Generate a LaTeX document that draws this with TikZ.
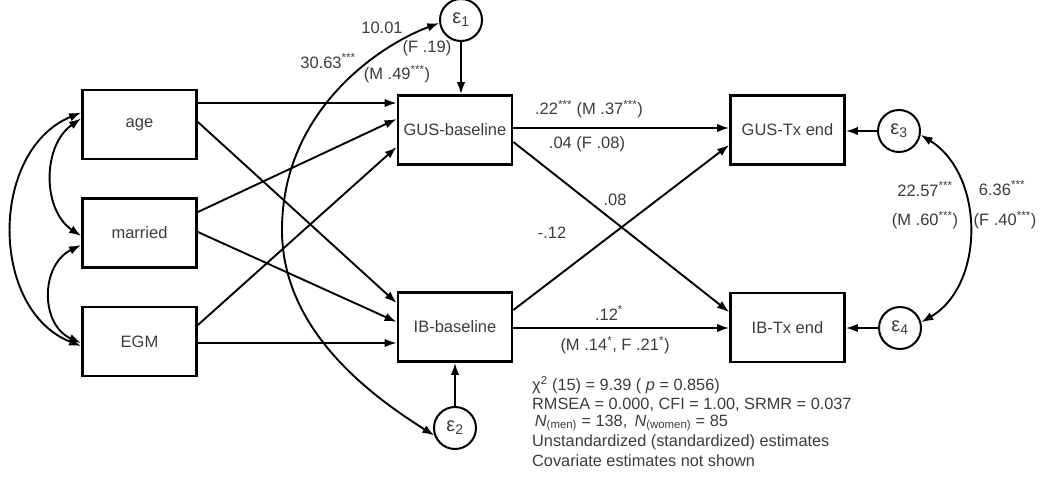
\documentclass[tikz,border=0pt]{standalone}
\usepackage{fontspec}
\setmainfont{Liberation Sans}
\usetikzlibrary{arrows.meta,calc}
\definecolor{txt}{RGB}{60,60,60}
\newcommand\thrst{\textsuperscript{***}}
\newcommand\onest{\textsuperscript{*}}
\begin{document}
\begin{tikzpicture}[x=1pt,y=-1pt,
  box/.style={draw=black, line width=2.8pt, minimum width=114pt, minimum height=69pt, inner sep=0pt, text=txt, font=\fontsize{16.5}{19}\selectfont},
  err/.style={draw=black, line width=2pt, circle, minimum size=42pt, inner sep=0pt, text=txt, font=\fontsize{20}{22}\selectfont},
  pth/.style={line width=1.9pt, -{Latex[length=12pt,width=8.5pt]}},
  cov/.style={line width=1.9pt, {Latex[length=12pt,width=8.5pt]}-{Latex[length=12pt,width=8.5pt]}},
  lab/.style={text=txt, font=\fontsize{16.5}{19}\selectfont, inner sep=0pt},
  stat/.style={text=txt, font=\fontsize{16.3}{19}\selectfont, inner sep=0pt, anchor=west}
]
\fill[white, use as bounding box] (0,0) rectangle (1040,479);

% boxes
\node[box] (age) at (139.5,124.5) {age};
\node[box] (mar) at (139.5,233) {married};
\node[box] (egm) at (139.5,341.5) {EGM};
\node[box] (gus) at (455,130) {GUS-baseline};
\node[box] (ib) at (455,327) {IB-baseline};
\node[box] (gtx) at (787.5,130) {GUS-Tx end};
\node[box] (itx) at (787.5,327.5) {IB-Tx end};

% error terms
\node[err] (e1) at (461,20) {ε\textsubscript{1}};
\node[err] (e2) at (455,428) {ε\textsubscript{2}};
\node[err] (e3) at (899,131) {ε\textsubscript{3}};
\node[err] (e4) at (900,328) {ε\textsubscript{4}};

% exogenous -> baseline
\draw[pth] ($(age.east)+(0,-21.5)$) -- ($(gus.west)+(0,-27)$);
\draw[pth] ($(age.east)+(0,-2.5)$) -- ($(ib.west)+(0,-24)$);
\draw[pth] ($(mar.east)+(0,-21)$) -- ($(gus.west)+(0,-11)$);
\draw[pth] ($(mar.east)+(0,-1)$) -- ($(ib.west)+(0,-5)$);
\draw[pth] ($(egm.east)+(0,-16.5)$) -- ($(gus.west)+(0,17)$);
\draw[pth] ($(egm.east)+(0,1.5)$) -- ($(ib.west)+(0,16)$);

% baseline -> end
\draw[pth] ($(gus.east)+(0,-2)$) -- ($(gtx.west)+(0,-2)$);
\draw[pth] ($(gus.east)+(0,12)$) -- ($(itx.west)+(0,-15.5)$);
\draw[pth] ($(ib.east)+(0,-17)$) -- ($(gtx.west)+(0,15)$);
\draw[pth] ($(ib.east)+(0,1)$) -- ($(itx.west)+(0,0.5)$);

% error arrows
\draw[pth] (e1.south) -- (e1.south |- gus.north);
\draw[pth] (e2.north) -- (e2.north |- ib.south);
\draw[pth] (e3.west) -- (e3.west -| gtx.east);
\draw[pth] (e4.west) -- (e4.west -| itx.east);

% covariances among exogenous
\coordinate (a1) at ($(age.west)+(0,-6)$);
\coordinate (a2) at ($(age.west)+(0,-12)$);
\coordinate (m1) at ($(mar.west)+(0,3)$);
\coordinate (m2) at ($(mar.west)+(0,12)$);
\coordinate (g1) at ($(egm.west)+(0,1.5)$);
\coordinate (g2) at ($(egm.west)+(0,4.5)$);
\draw[cov] (a1) .. controls ($(a1)+(-39,27)$) and ($(m1)+(-39,-26)$) .. (m1);
\draw[cov] (m2) .. controls ($(m2)+(-41,20)$) and ($(g1)+(-41,-18)$) .. (g1);
\draw[cov] (a2) .. controls ($(a2)+(-92,38)$) and ($(g2)+(-92,-36)$) .. (g2);

% covariances among errors
\coordinate (arcL) at (282,230);
\draw[cov] (e1.188) .. controls (380,45) and (282,110) .. (arcL)
  .. controls (282,330) and (370,395) .. (e2.200);
\draw[cov] (e3.-10) .. controls (985,175) and (985,285) .. (e4.15);

% path labels
\node[lab] (l1) at (589,109) {.22\thrst\ (M .37\thrst)};
\node[lab] (l2) at (587,144) {.04 (F .08)};
\node[lab] (l3) at (615,200) {.08};
\node[lab] (l4) at (552,233) {-.12};
\node[lab] (l5) at (609,313) {.12\onest};
\node[lab] (l6) at (615,345) {(M .14\onest, F .21\onest)};

% covariance labels
\node[lab] (c1) at (382,28) {10.01};
\node[lab] (c2) at (427,48) {(F .19)};
\node[lab] (c3) at (328,61) {30.63\thrst};
\node[lab] (c4) at (397,74) {(M .49\thrst)};
\node[lab] (c5) at (925,189) {22.57\thrst};
\node[lab] (c6) at (925,220) {(M .60\thrst)};
\node[lab] (c7) at (1002,188) {6.36\thrst};
\node[lab] (c8) at (1005,220) {(F .40\thrst)};

% fit statistics
\node[stat] (s1) at (532,385) {χ\textsuperscript{2} (15) = 9.39 ( \textit{p} = 0.856)};
\node[stat] (s2) at (532,405) {RMSEA = 0.000, CFI = 1.00, SRMR = 0.037};
\node[stat] (s3) at (532,423) {\,\textit{N}\textsubscript{(men)} = 138,\, \textit{N}\textsubscript{(women)} = 85};
\node[stat] (s4) at (532,442) {Unstandardized (standardized) estimates};
\node[stat] (s5) at (532,461) {Covariate estimates not shown};
\end{tikzpicture}
\end{document}
